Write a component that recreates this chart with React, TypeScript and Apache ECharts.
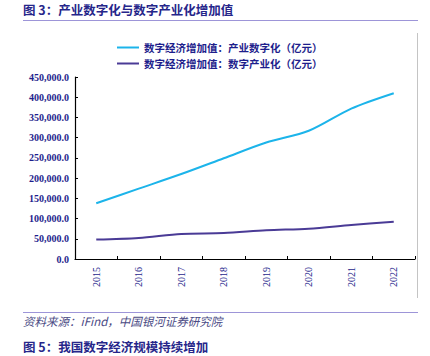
import React, { useEffect, useRef } from "react";
import * as echarts from "echarts";

const years = ["2015", "2016", "2017", "2018", "2019", "2020", "2021", "2022"];
const industryDigitization = [138000, 174000, 210000, 249000, 288000, 317000, 372000, 410000];
const digitalIndustrialization = [48000, 52000, 62000, 64000, 71000, 75000, 84000, 92000];
const seriesNames = [
  "数字经济增加值：产业数字化（亿元）",
  "数字经济增加值：数字产业化（亿元）",
];
const titleText = "图 3：产业数字化与数字产业化增加值";
const sourceText = "资料来源：iFind，中国银河证券研究院";
const nextTitleText = "图 5：我国数字经济规模持续增加";

const NAVY = "#1e1e8c";
const CJK = "'Noto Sans CJK SC', 'Noto Sans', sans-serif";
const SERIF = "'Liberation Serif', 'DejaVu Serif', serif";

export default function App() {
  const ref = useRef<HTMLDivElement>(null);
  useEffect(() => {
    if (!ref.current) return;
    const chart = echarts.init(ref.current, null, { renderer: "svg" });
    chart.setOption({
      animation: false,
      backgroundColor: "#ffffff",
      grid: { left: 75, right: 15, top: 77, bottom: 97, containLabel: false },
      legend: {
        orient: "vertical",
        left: 117,
        top: 41,
        padding: 0,
        itemWidth: 22,
        itemHeight: 2,
        itemGap: 3,
        icon: "rect",
        textStyle: {
          fontFamily: CJK,
          fontSize: 10.5,
          fontWeight: "bold",
          color: NAVY,
          lineHeight: 13,
          padding: [0, 0, 0, 0],
        },
        data: seriesNames,
      },
      xAxis: {
        type: "category",
        data: years,
        boundaryGap: true,
        axisLine: { show: true, lineStyle: { color: "#000", width: 1.2 } },
        axisTick: { show: true, inside: true, length: 3, lineStyle: { color: "#000" } },
        axisLabel: {
          rotate: 90,
          margin: 8,
          fontFamily: SERIF,
          fontSize: 10,
          color: NAVY,
        },
        splitLine: { show: false },
      },
      yAxis: {
        type: "value",
        min: 0,
        max: 450000,
        interval: 50000,
        axisLine: { show: true, lineStyle: { color: "#000", width: 1.2 } },
        axisTick: { show: true, inside: true, length: 3, lineStyle: { color: "#000" } },
        axisLabel: {
          margin: 6,
          fontFamily: SERIF,
          fontSize: 10,
          fontWeight: "bold",
          color: NAVY,
          formatter: (v: number) =>
            v.toLocaleString("en-US", { minimumFractionDigits: 1, maximumFractionDigits: 1 }),
        },
        splitLine: { show: false },
      },
      series: [
        {
          name: seriesNames[0],
          type: "line",
          data: industryDigitization,
          smooth: 0.3,
          symbol: "none",
          lineStyle: { color: "#1cb4ea", width: 2 },
          itemStyle: { color: "#1cb4ea" },
        },
        {
          name: seriesNames[1],
          type: "line",
          data: digitalIndustrialization,
          smooth: 0.3,
          symbol: "none",
          lineStyle: { color: "#4a3b96", width: 2 },
          itemStyle: { color: "#4a3b96" },
        },
      ],
      graphic: [
        {
          type: "text",
          left: 23,
          top: 3,
          style: {
            text: titleText,
            fontFamily: CJK,
            fontSize: 12.5,
            fontWeight: "bold",
            fill: "#26268a",
          },
        },
        {
          type: "line",
          shape: { x1: 23, y1: 20.5, x2: 418, y2: 20.5 },
          style: { stroke: "#9d95d8", lineWidth: 1 },
        },
        {
          type: "line",
          shape: { x1: 417.5, y1: 33, x2: 417.5, y2: 298 },
          style: { stroke: "#c4c4c4", lineWidth: 1 },
        },
        {
          type: "line",
          shape: { x1: 23, y1: 312.5, x2: 418, y2: 312.5 },
          style: { stroke: "#9d95d8", lineWidth: 1 },
        },
        {
          type: "text",
          left: 23,
          top: 315,
          style: {
            text: sourceText,
            fontFamily: CJK,
            fontSize: 11.5,
            fontStyle: "italic",
            fill: "#4a4a84",
          },
        },
        {
          type: "text",
          left: 23,
          top: 340,
          style: {
            text: nextTitleText,
            fontFamily: CJK,
            fontSize: 12.5,
            fontWeight: "bold",
            fill: "#26268a",
          },
        },
      ],
    });
    return () => chart.dispose();
  }, []);
  return (
    <div
      ref={ref}
      style={{ position: "fixed", left: 0, top: 0, width: 430, height: 356 }}
    />
  );
}
